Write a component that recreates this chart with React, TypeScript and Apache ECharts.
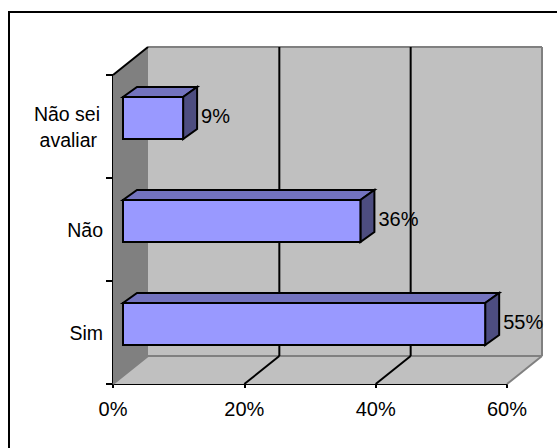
import React, { useEffect, useRef } from "react";
import * as echarts from "echarts";

const categories = ["Sim", "Não", "Não sei\navaliar"];
const shares = [55, 36, 9];
const axisTicks = [0, 20, 40, 60];

// Oblique projection of the box: how far the back wall sits from the front plane.
const DEPTH_X = 35;
const DEPTH_Y = -28;
// Where the bars stand inside the box, and their own thickness.
const BAR_SHIFT_X = 10;
const BAR_END_SHIFT_X = 11;
const BAR_SHIFT_Y = -8.5;
const BAR_DEPTH_X = 14;
const BAR_DEPTH_Y = -10;
const BAR_HALF = 21;

const INK = "#000000";
const WALL = "#c0c0c0";
const SIDE_WALL = "#808080";
const BAR_FRONT = "#9999ff";
const BAR_TOP = "#7373bf";
const BAR_SIDE = "#4d4d80";
const FONT = "'Liberation Sans', Arial, sans-serif";
const LABEL_SIZE = 20;
const CATEGORY_SIZE = 19.5;

const poly = (points: number[][], fill: string, stroke: string, lineWidth = 2) => ({
  type: "polygon",
  shape: { points },
  style: { fill, stroke, lineWidth, lineJoin: "miter" },
});

const seg = (a: number[], b: number[], stroke: string, lineWidth = 2) => ({
  type: "line",
  shape: { x1: a[0], y1: a[1], x2: b[0], y2: b[1] },
  style: { stroke, lineWidth },
});

// Walls, floor and gridlines, all derived from the axis scales.
function renderBox(_: any, api: any) {
  const bandPx = api.size([0, 1])[1];
  const bottomLeft = api.coord([0, 0]);
  const y0 = bottomLeft[1] + bandPx / 2;
  const y1 = y0 - bandPx * categories.length;
  const x0 = bottomLeft[0];
  const x1 = api.coord([axisTicks[axisTicks.length - 1], 0])[0];
  const back = (p: number[]) => [p[0] + DEPTH_X, p[1] + DEPTH_Y];

  const children: any[] = [
    poly([[x0, y1], back([x0, y1]), back([x0, y0]), [x0, y0]], SIDE_WALL, "none", 0),
    poly([back([x0, y1]), back([x1, y1]), back([x1, y0]), back([x0, y0])], WALL, "none", 0),
    poly([[x0, y0], [x1, y0], back([x1, y0]), back([x0, y0])], WALL, "none", 0),
    seg(back([x0, y1]), back([x1, y1]), SIDE_WALL),
    seg(back([x1, y1]), back([x1, y0]), SIDE_WALL),
    seg(back([x0, y0]), back([x1, y0]), SIDE_WALL),
    seg([x1, y0], back([x1, y0]), SIDE_WALL),
    seg([x0, y0], back([x0, y0]), SIDE_WALL),
    seg([x0, y1], back([x0, y1]), INK),
  ];
  axisTicks.slice(1, -1).forEach((t) => {
    const x = api.coord([t, 0])[0];
    children.push(seg(back([x, y1]), back([x, y0]), INK));
    children.push(seg([x, y0], back([x, y0]), INK));
  });
  return { type: "group", children };
}

// One extruded bar: front face, top and end cap, plus its percentage label.
function renderBar(_: any, api: any) {
  const catIndex = api.value(0);
  const value = api.value(1);
  const start = api.coord([0, catIndex]);
  const end = api.coord([value, catIndex]);
  const xa = start[0] + BAR_SHIFT_X;
  const xb = end[0] + BAR_END_SHIFT_X;
  const yt = start[1] + BAR_SHIFT_Y - BAR_HALF;
  const yb = start[1] + BAR_SHIFT_Y + BAR_HALF;
  const dx = BAR_DEPTH_X;
  const dy = BAR_DEPTH_Y;
  return {
    type: "group",
    children: [
      poly([[xa, yt], [xb, yt], [xb + dx, yt + dy], [xa + dx, yt + dy]], BAR_TOP, INK),
      poly([[xb, yt], [xb + dx, yt + dy], [xb + dx, yb + dy], [xb, yb]], BAR_SIDE, INK),
      poly([[xa, yt], [xb, yt], [xb, yb], [xa, yb]], BAR_FRONT, INK),
      {
        type: "text",
        x: xb + dx + 4,
        y: start[1] + BAR_SHIFT_Y - 2,
        style: {
          text: value + "%",
          fill: "#000",
          font: LABEL_SIZE + "px " + FONT,
          textAlign: "left",
          textVerticalAlign: "middle",
        },
      },
    ],
  };
}

// Two-line names sit as a slightly centred block, a little left of the single-line ones.
const categoryLabel = (name: string) => {
  const lines = name.split("\n");
  return lines.length === 1 ? name : lines.map((l, i) => `{line${i}|${l}}`).join("\n");
};

const lineStyle = (rightPad: number) => ({
  fontFamily: "Liberation Sans",
  fontSize: CATEGORY_SIZE,
  color: "#000",
  lineHeight: 26,
  padding: [0, rightPad, 0, 0],
});

export default function App() {
  const ref = useRef<HTMLDivElement>(null);
  useEffect(() => {
    document.body.style.margin = "0";
    const chart = echarts.init(ref.current!, undefined, { renderer: "svg" });
    chart.setOption({
      animation: false,
      backgroundColor: "#ffffff",
      graphic: [
        {
          // The frame's right and bottom edges run past the visible area.
          type: "rect",
          z: -1,
          shape: { x: 9, y: 12, width: 620, height: 500 },
          style: { fill: "#ffffff", stroke: INK, lineWidth: 2 },
        },
      ],
      grid: { left: 113, right: 50, top: 75, bottom: 64 },
      xAxis: {
        type: "value",
        min: 0,
        max: 60,
        interval: 20,
        axisLine: { show: true, onZero: false, lineStyle: { color: INK, width: 2 } },
        axisTick: { show: true, length: 4, lineStyle: { color: INK, width: 2 } },
        splitLine: { show: false },
        axisLabel: {
          formatter: "{value}%",
          color: "#000",
          fontFamily: "Liberation Sans",
          fontSize: LABEL_SIZE,
          margin: 15,
        },
      },
      yAxis: {
        type: "category",
        data: categories,
        axisLine: { show: true, lineStyle: { color: INK, width: 2 } },
        axisTick: { show: true, length: 7, alignWithLabel: false, lineStyle: { color: INK, width: 2 } },
        splitLine: { show: false },
        axisLabel: {
          formatter: categoryLabel,
          color: "#000",
          fontFamily: "Liberation Sans",
          fontSize: CATEGORY_SIZE,
          margin: 10,
          align: "right",
          rich: { line0: lineStyle(3), line1: lineStyle(6) },
        },
      },
      series: [
        {
          type: "custom",
          coordinateSystem: "cartesian2d",
          renderItem: renderBox,
          data: [[0, 0]],
          encode: { x: 0, y: 1 },
          silent: true,
          z: 1,
        },
        {
          type: "custom",
          coordinateSystem: "cartesian2d",
          renderItem: renderBar,
          data: shares.map((v, i) => [i, v]),
          encode: { x: 1, y: 0 },
          silent: true,
          clip: false,
          z: 2,
        },
      ],
    });
    return () => chart.dispose();
  }, []);
  return <div ref={ref} style={{ width: 557, height: 448 }} />;
}
